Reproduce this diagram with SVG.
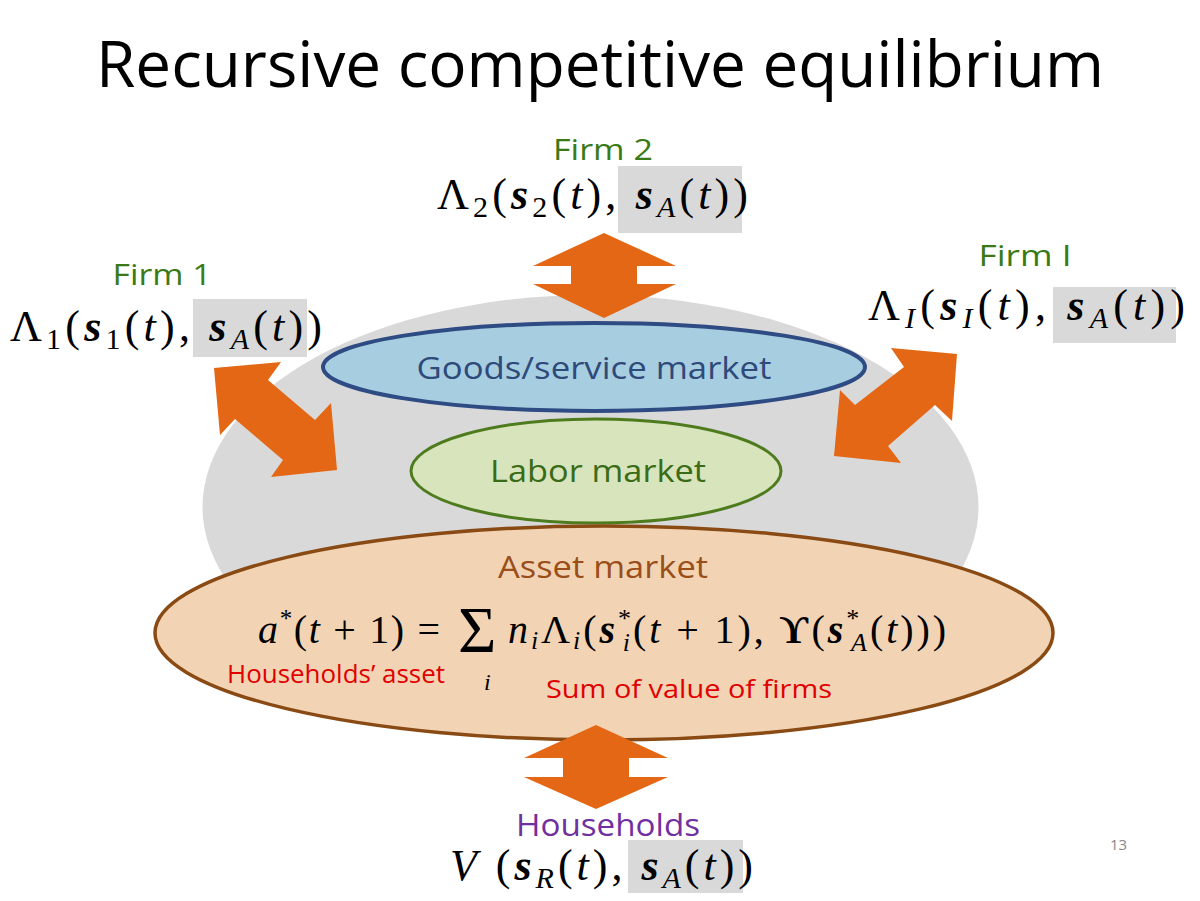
<svg xmlns="http://www.w3.org/2000/svg" width="1200" height="901" viewBox="0 0 1200 901">
<style>
.sans{font-family:"Open Sans","Liberation Sans",sans-serif}
.math{font-family:"Liberation Serif","DejaVu Serif",serif;fill:#000}
.it{font-style:italic}
.b{font-style:italic;font-weight:bold}
.sub{font-size:30px}
.firm{fill:#3a7a16;font-size:30px;text-anchor:middle}
.box{fill:#d9d9d9}
.arrow{fill:#e36714}
.red{fill:#e00000;font-size:25px}
</style>
<rect width="1200" height="901" fill="#fff"/>
<text class="sans" x="600" y="87" font-size="64" text-anchor="middle" textLength="1008" lengthAdjust="spacingAndGlyphs" fill="#000">Recursive competitive equilibrium</text>

<g id="market-area">
<ellipse cx="590.5" cy="507" rx="388" ry="212" fill="#d9d9d9"/>
</g>

<g id="goods-market">
<ellipse cx="594" cy="367" rx="271" ry="44" fill="#a7cde0" stroke="#2f4b84" stroke-width="4"/>
<text class="sans" x="594" y="379" font-size="31" text-anchor="middle" textLength="355" lengthAdjust="spacingAndGlyphs" fill="#2e4a7a">Goods/service market</text>
</g>

<g id="labor-market">
<ellipse cx="596" cy="471" rx="185" ry="52" fill="#d8e4bc" stroke="#4f7b1f" stroke-width="3"/>
<text class="sans" x="598" y="482" font-size="31" text-anchor="middle" textLength="216" lengthAdjust="spacingAndGlyphs" fill="#3a6b17">Labor market</text>
</g>

<g id="asset-market">
<ellipse cx="604" cy="633" rx="449" ry="107" fill="#f2d4b5" stroke="#8a4a14" stroke-width="3.5"/>
<text class="sans" x="603" y="578" font-size="31" text-anchor="middle" textLength="210" lengthAdjust="spacingAndGlyphs" fill="#9a4e1a">Asset market</text>
<text class="math" x="258" y="643" font-size="40" textLength="182"><tspan class="it">a</tspan><tspan font-size="25" dy="-16">*</tspan><tspan dy="16">(</tspan><tspan class="it">t</tspan> + 1) =</text>
<text class="math" x="458" y="652" font-size="66">Σ</text>
<text class="math it" x="484" y="690" font-size="24">i</text>
<text class="math" x="508" y="643" font-size="40" textLength="438"><tspan class="it">n</tspan><tspan class="it" font-size="26" dy="6">i</tspan><tspan dy="-6">Λ</tspan><tspan class="it" font-size="26" dy="6">i</tspan><tspan dy="-6">(</tspan><tspan class="b">s</tspan><tspan font-size="26" dy="-16">*</tspan><tspan class="it" font-size="26" dx="-11" dy="24">i</tspan><tspan dy="-8">(</tspan><tspan class="it">t</tspan> + 1), <tspan font-weight="bold">ϒ</tspan>(<tspan class="b">s</tspan><tspan font-size="26" dy="-16">*</tspan><tspan class="it" font-size="26" dx="-11" dy="24">A</tspan><tspan dy="-8">(</tspan><tspan class="it">t</tspan>)))</text>
<text class="sans red" x="227" y="683" textLength="218" lengthAdjust="spacingAndGlyphs">Households’ asset</text>
<text class="sans red" x="546" y="698" textLength="286" lengthAdjust="spacingAndGlyphs">Sum of value of firms</text>
</g>

<g id="firm-2">
<rect class="box" x="618" y="166" width="124" height="67"/>
<text class="sans firm" x="603" y="160" textLength="100" lengthAdjust="spacingAndGlyphs">Firm 2</text>
<text class="math" x="437" y="209" font-size="44" textLength="311">Λ<tspan class="sub" dy="8">2</tspan><tspan dy="-8">(</tspan><tspan class="b">s</tspan><tspan class="sub" dy="8">2</tspan><tspan dy="-8">(</tspan><tspan class="it">t</tspan>), <tspan class="b">s</tspan><tspan class="sub it" dy="8">A</tspan><tspan dy="-8">(</tspan><tspan class="it">t</tspan>))</text>
</g>

<g id="firm-1">
<rect class="box" x="193" y="299" width="114" height="58"/>
<text class="sans firm" x="162" y="285" textLength="99" lengthAdjust="spacingAndGlyphs">Firm 1</text>
<text class="math" x="10" y="341" font-size="44" textLength="312">Λ<tspan class="sub" dy="8">1</tspan><tspan dy="-8">(</tspan><tspan class="b">s</tspan><tspan class="sub" dy="8">1</tspan><tspan dy="-8">(</tspan><tspan class="it">t</tspan>), <tspan class="b">s</tspan><tspan class="sub it" dy="8">A</tspan><tspan dy="-8">(</tspan><tspan class="it">t</tspan>))</text>
</g>

<g id="firm-I">
<rect class="box" x="1053" y="287" width="123" height="56"/>
<text class="sans firm" x="1025" y="266" textLength="93" lengthAdjust="spacingAndGlyphs">Firm I</text>
<text class="math" x="868" y="320" font-size="44" textLength="317">Λ<tspan class="sub it" dy="8">I</tspan><tspan dy="-8">(</tspan><tspan class="b">s</tspan><tspan class="sub it" dy="8">I</tspan><tspan dy="-8">(</tspan><tspan class="it">t</tspan>), <tspan class="b">s</tspan><tspan class="sub it" dy="8">A</tspan><tspan dy="-8">(</tspan><tspan class="it">t</tspan>))</text>
</g>

<g id="households">
<rect class="box" x="628" y="840" width="115" height="53"/>
<text class="sans" x="608" y="836" font-size="31" text-anchor="middle" textLength="184" lengthAdjust="spacingAndGlyphs" fill="#7030a0">Households</text>
<text class="math" x="450" y="880" font-size="44" textLength="303"><tspan class="it">V</tspan> (<tspan class="b">s</tspan><tspan class="sub it" dy="8">R</tspan><tspan dy="-8">(</tspan><tspan class="it">t</tspan>), <tspan class="b">s</tspan><tspan class="sub it" dy="8">A</tspan><tspan dy="-8">(</tspan><tspan class="it">t</tspan>))</text>
</g>

<g id="connectors">
<polygon class="arrow" points="604,233 676,266 637,266 637,284 676,284 604,318 533,284 571,284 571,266 533,266"/>
<polygon class="arrow" points="214,368 281,362 268,380 315,420 331,403 337,470 271,477 283,460 235,419 220,435"/>
<polygon class="arrow" points="957,354 952,421 935,405 888,446 901,463 834,456 840,390 855,405 904,367 891,348"/>
<polygon class="arrow" points="596,725 668,758 629,758 629,777 668,777 596,809 524,777 563,777 563,758 524,758"/>
</g>

<text class="sans" x="1110" y="850" font-size="15" fill="#888">13</text>
</svg>
